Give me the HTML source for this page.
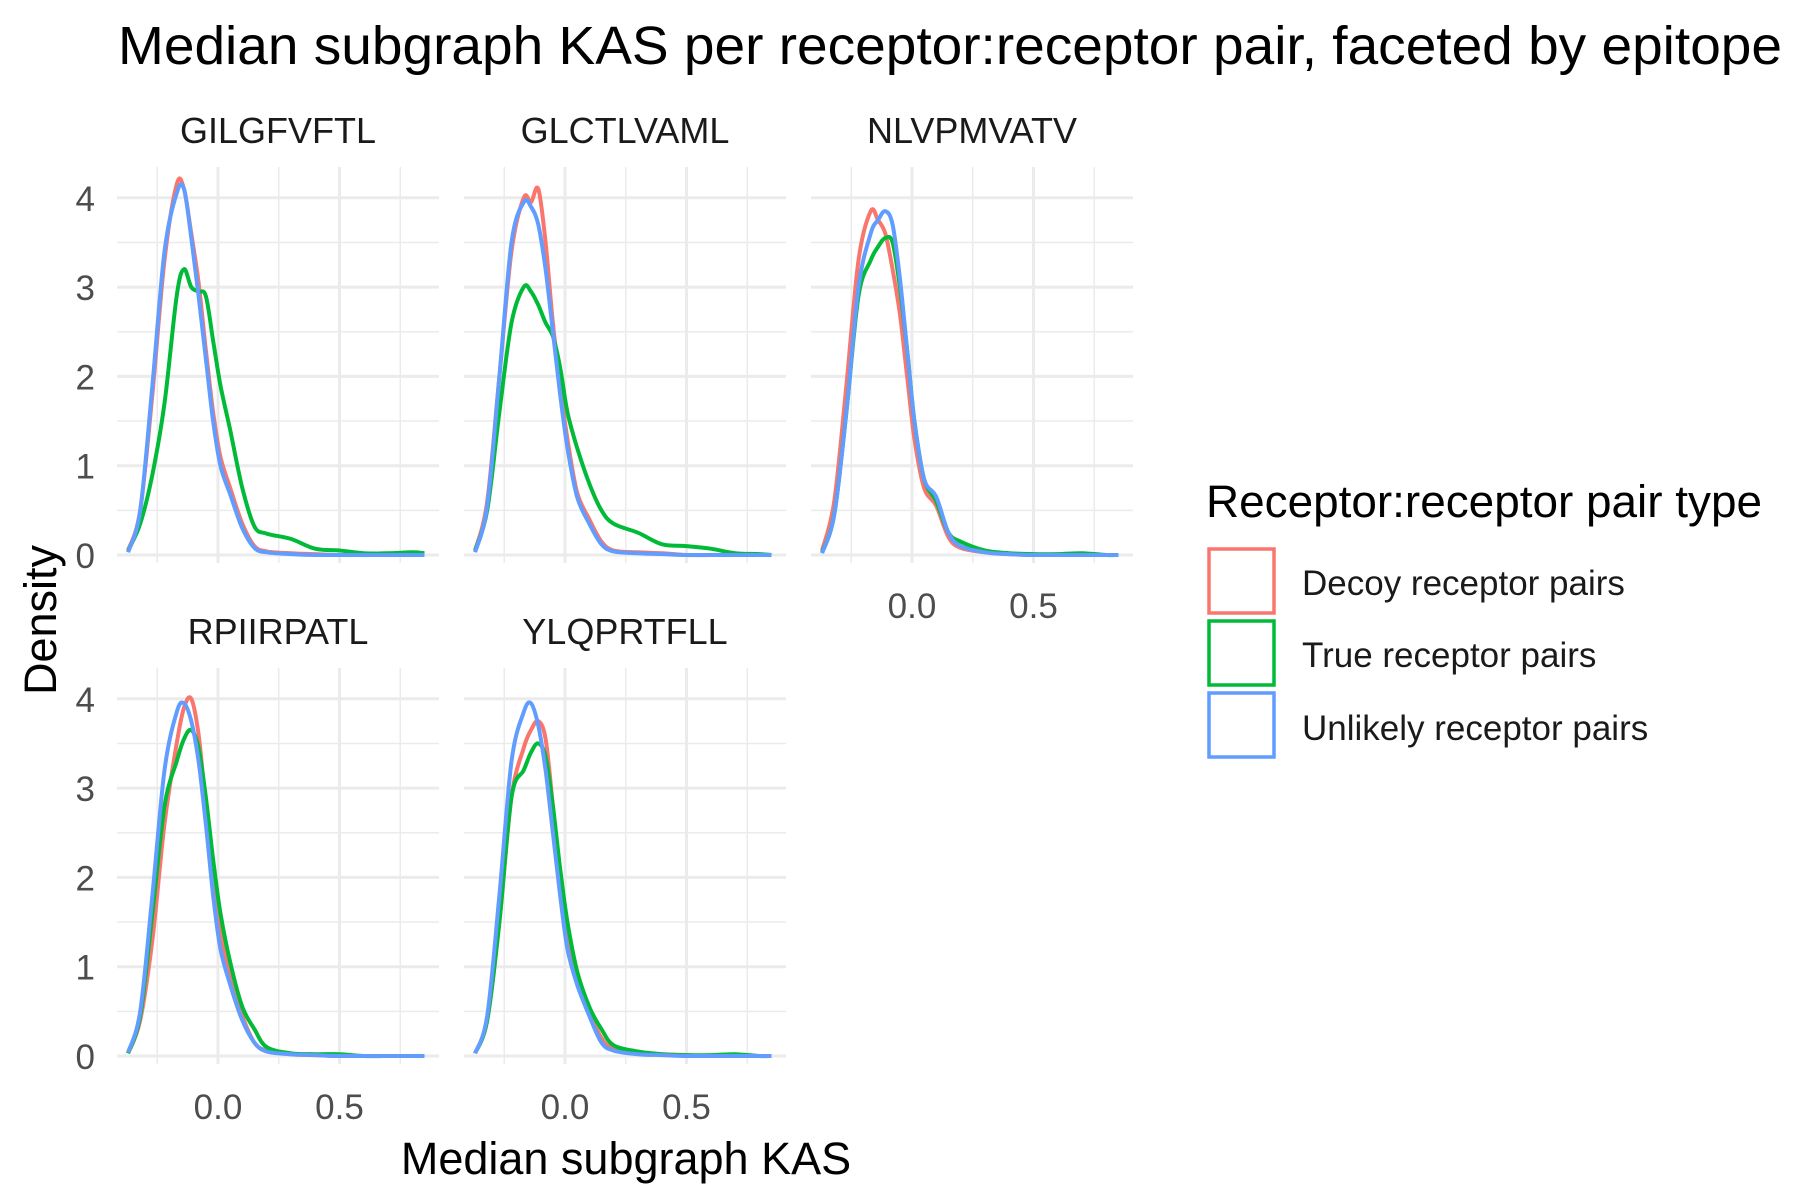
<!DOCTYPE html>
<html><head><meta charset="utf-8"><style>
html,body{margin:0;padding:0;background:#fff;}
svg{display:block;font-family:"Liberation Sans",Arial,sans-serif;}
</style></head><body>
<svg id="chart" width="1800" height="1200" viewBox="0 0 1800 1200">
<text x="950" y="64" font-size="54" text-anchor="middle" fill="#000" textLength="1664" lengthAdjust="spacingAndGlyphs">Median subgraph KAS per receptor:receptor pair, faceted by epitope</text>
<text x="626" y="1174" font-size="45" text-anchor="middle" fill="#000">Median subgraph KAS</text>
<text transform="translate(56,620) rotate(-90)" font-size="45" text-anchor="middle" fill="#000">Density</text>
<g id="panels"></g>
<g>
<text x="1206" y="517" font-size="45" fill="#000" textLength="556" lengthAdjust="spacingAndGlyphs">Receptor:receptor pair type</text>
<rect x="1209" y="549" width="65" height="64" fill="none" stroke="#F8766D" stroke-width="3.5"/>
<text x="1302" y="595" font-size="35" fill="#1a1a1a">Decoy receptor pairs</text>
<rect x="1209" y="621" width="65" height="64" fill="none" stroke="#00BA38" stroke-width="3.5"/>
<text x="1302" y="667" font-size="35" fill="#1a1a1a">True receptor pairs</text>
<rect x="1209" y="693" width="65" height="64" fill="none" stroke="#619CFF" stroke-width="3.5"/>
<text x="1302" y="740" font-size="35" fill="#1a1a1a">Unlikely receptor pairs</text>
</g>
</svg>
<script>
const epitopes = ["GILGFVFTL","GLCTLVAML","NLVPMVATV","RPIIRPATL","YLQPRTFLL"];
const seriesNames = ["Decoy receptor pairs","True receptor pairs","Unlikely receptor pairs"];
const seriesColors = ["#F8766D","#00BA38","#619CFF"];
const xGrid = [-0.37,-0.32,-0.27,-0.22,-0.17,-0.14,-0.11,-0.08,-0.05,-0.02,0.01,0.05,0.1,0.15,0.2,0.3,0.4,0.5,0.6,0.7,0.8,0.85];
const yTicks = [0,1,2,3,4];
const xTicks = [0.0,0.5];
const xTickLabels = ["0.0","0.5"];
// density values per epitope: [decoy, true, unlikely]
const densGILGFVFTL = [
 [0.05,0.5,1.8,3.3,4.15,4.1,3.6,3.05,2.3,1.6,1.1,0.75,0.35,0.1,0.04,0.02,0.01,0,0,0,0,0],
 [0.05,0.35,0.9,1.7,2.9,3.2,3.0,2.95,2.9,2.4,1.9,1.4,0.75,0.32,0.24,0.18,0.07,0.05,0.02,0.02,0.03,0.02],
 [0.03,0.5,1.9,3.4,4.05,4.1,3.55,2.9,2.2,1.5,1.0,0.68,0.3,0.08,0.03,0.01,0,0,0,0,0,0]];
const densGLCTLVAML = [
 [0.05,0.6,2.0,3.4,4.0,3.95,4.1,3.5,2.6,1.9,1.3,0.7,0.4,0.15,0.05,0.03,0.02,0,0,0,0,0],
 [0.05,0.5,1.6,2.6,3.0,2.95,2.8,2.6,2.45,2.1,1.6,1.2,0.8,0.5,0.35,0.25,0.12,0.1,0.07,0.02,0.01,0],
 [0.03,0.55,2.0,3.5,3.95,3.9,3.7,3.2,2.5,1.8,1.2,0.65,0.35,0.12,0.04,0.02,0.01,0,0,0,0,0]];
const densNLVPMVATV = [
 [0.05,0.6,1.9,3.3,3.85,3.75,3.6,3.2,2.7,2.0,1.3,0.75,0.55,0.2,0.08,0.03,0.01,0,0,0,0,0],
 [0.03,0.45,1.6,2.9,3.3,3.45,3.55,3.5,3.0,2.3,1.5,0.85,0.6,0.25,0.15,0.05,0.02,0.01,0.01,0.02,0,0],
 [0.02,0.45,1.6,3.0,3.6,3.75,3.85,3.7,3.1,2.3,1.5,0.85,0.65,0.25,0.1,0.03,0.01,0,0,0,0,0]];
const densRPIIRPATL = [
 [0.03,0.4,1.3,2.6,3.5,3.9,4.0,3.6,2.8,2.0,1.4,0.9,0.45,0.15,0.06,0.02,0.01,0,0,0,0,0],
 [0.03,0.45,1.6,2.8,3.3,3.55,3.65,3.45,2.9,2.2,1.6,1.05,0.55,0.3,0.1,0.03,0.02,0.02,0,0,0,0],
 [0.04,0.5,1.8,3.2,3.85,3.95,3.75,3.3,2.6,1.8,1.2,0.8,0.4,0.15,0.05,0.02,0.01,0,0,0,0,0]];
const densYLQPRTFLL = [
 [0.03,0.4,1.5,2.9,3.45,3.65,3.75,3.55,2.8,1.9,1.3,0.85,0.5,0.2,0.08,0.03,0.02,0.01,0,0,0,0],
 [0.03,0.4,1.5,2.9,3.2,3.4,3.5,3.35,2.8,2.1,1.5,0.95,0.55,0.3,0.12,0.05,0.02,0.01,0.01,0.02,0,0],
 [0.03,0.45,1.8,3.3,3.85,3.95,3.7,3.2,2.5,1.8,1.2,0.8,0.45,0.15,0.06,0.02,0.01,0,0,0,0,0]];
const allDens = [densGILGFVFTL,densGLCTLVAML,densNLVPMVATV,densRPIIRPATL,densYLQPRTFLL];

const NS="http://www.w3.org/2000/svg";
const root=document.getElementById('panels');
const colLeft=[117,464,811], rowTop=[167,668], PW=322, PH=396;
const XPX=243, YPX=89.3;
function mk(tag,attrs,parent){const e=document.createElementNS(NS,tag);for(const k in attrs)e.setAttribute(k,attrs[k]);parent.appendChild(e);return e;}
function path(pts){
  let d="M"+pts[0][0].toFixed(1)+","+pts[0][1].toFixed(1);
  for(let i=0;i<pts.length-1;i++){
    const p0=pts[Math.max(0,i-1)],p1=pts[i],p2=pts[i+1],p3=pts[Math.min(pts.length-1,i+2)];
    const c1=[p1[0]+(p2[0]-p0[0])/6,p1[1]+(p2[1]-p0[1])/6];
    const c2=[p2[0]-(p3[0]-p1[0])/6,p2[1]-(p3[1]-p1[1])/6];
    d+=" C"+c1[0].toFixed(1)+","+c1[1].toFixed(1)+" "+c2[0].toFixed(1)+","+c2[1].toFixed(1)+" "+p2[0].toFixed(1)+","+p2[1].toFixed(1);
  }
  return d;
}
epitopes.forEach((ep,pi)=>{
  const col=pi%3,row=Math.floor(pi/3);
  const L=colLeft[col],T=rowTop[row],y0=T+388,x0=L+101;
  const sx=v=>x0+v*XPX, sy=v=>y0-v*YPX;
  const g=mk('g',{},root);
  
  
  for(let v=0.5;v<4.4;v+=1){const l=mk('line',{x1:L,x2:L+PW,y1:sy(v),y2:sy(v),stroke:'#EBEBEB','stroke-width':1.5},g);}
  [-0.25,0.25,0.75].forEach(v=>{const l=mk('line',{x1:sx(v),x2:sx(v),y1:T,y2:T+PH,stroke:'#EBEBEB','stroke-width':1.5},g);});
  yTicks.forEach(v=>{const l=mk('line',{x1:L,x2:L+PW,y1:sy(v),y2:sy(v),stroke:'#EBEBEB','stroke-width':3},g);});
  xTicks.forEach(v=>{const l=mk('line',{x1:sx(v),x2:sx(v),y1:T,y2:T+PH,stroke:'#EBEBEB','stroke-width':3},g);});
  const st=mk('text',{x:L+PW/2,y:T-24,'font-size':36,'text-anchor':'middle',fill:'#1a1a1a'},g);
  st.textContent=ep;
  
  
  if(col===0){yTicks.forEach(v=>{const t=mk('text',{x:L-22,y:sy(v)+13,'font-size':35,'text-anchor':'end',fill:'#4D4D4D'},g);t.textContent=v;});}
  if(row===1||col===2){xTicks.forEach((v,i)=>{const t=mk('text',{x:sx(v),y:y0+63,'font-size':35,'text-anchor':'middle',fill:'#4D4D4D'},g);t.textContent=xTickLabels[i];});}
  allDens[pi].forEach((vals,si)=>{
    const pts=xGrid.map((x,i)=>[sx(x),sy(vals[i])]);
    const p=mk('path',{d:path(pts),fill:'none',stroke:seriesColors[si],'stroke-width':4,'stroke-linejoin':'round'},g);
    
    
  });
});
</script>
</body></html>
